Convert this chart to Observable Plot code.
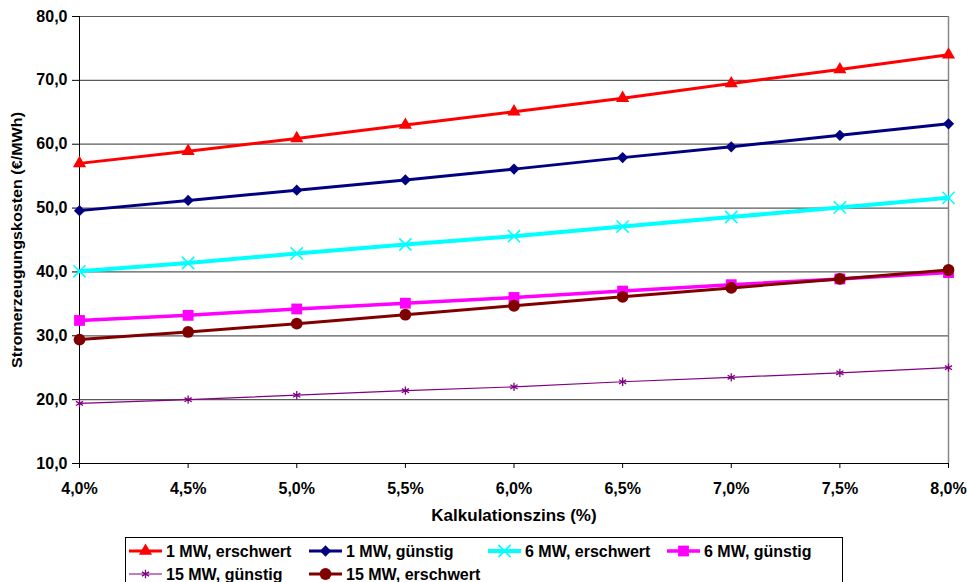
<!DOCTYPE html>
<html>
<head>
<meta charset="utf-8">
<script src="https://cdn.jsdelivr.net/npm/d3@7"></script>
<script src="https://cdn.jsdelivr.net/npm/@observablehq/plot@0.6"></script>
<style>
  html, body { margin: 0; padding: 0; background: #fff; overflow: hidden; }
  #wrap { position: relative; width: 967px; height: 582px; font-family: "Liberation Sans", Arial, sans-serif; }
  #legend { position: absolute; left: 125px; top: 537px; width: 718px; height: 60px; border: 1px solid #000; box-sizing: border-box; background: #fff; }
</style>
</head>
<body>
<div id="wrap"><div id="chart"></div><div id="legend"></div></div>
<script>
// ---- data ----
const rates = [4.0, 4.5, 5.0, 5.5, 6.0, 6.5, 7.0, 7.5, 8.0];
const seriesNames = ["1 MW, erschwert", "1 MW, günstig", "6 MW, erschwert", "6 MW, günstig", "15 MW, günstig", "15 MW, erschwert"];
const mw1Erschwert = [57.0, 58.9, 60.9, 63.0, 65.1, 67.2, 69.5, 71.7, 74.0];
const mw1Guenstig = [49.6, 51.2, 52.8, 54.4, 56.1, 57.9, 59.6, 61.4, 63.2];
const mw6Erschwert = [40.1, 41.4, 42.9, 44.3, 45.6, 47.1, 48.6, 50.1, 51.6];
const mw6Guenstig = [32.4, 33.2, 34.2, 35.1, 36.0, 37.0, 38.0, 38.9, 39.9];
const mw15Guenstig = [19.4, 20.0, 20.7, 21.4, 22.0, 22.8, 23.5, 24.2, 25.0];
const mw15Erschwert = [29.4, 30.6, 31.9, 33.3, 34.7, 36.1, 37.5, 38.9, 40.3];
const xTicks = [4.0, 4.5, 5.0, 5.5, 6.0, 6.5, 7.0, 7.5, 8.0];
const yTicks = [10, 20, 30, 40, 50, 60, 70, 80];
const xTitle = "Kalkulationszins (%)";
const yTitle = "Stromerzeugungskosten (€/MWh)";

// ---- styles ----
const rotDiamond = {
  draw(ctx, size) {
    const r = Math.sqrt(size / 2);
    ctx.moveTo(0, -r); ctx.lineTo(r, 0); ctx.lineTo(0, r); ctx.lineTo(-r, 0); ctx.closePath();
  }
};
const styles = [
  {color: "#FF0000", width: 3, symbol: "triangle", r: 4.9, filled: true},
  {color: "#000080", width: 3, symbol: rotDiamond, r: 4.5, filled: true},
  {color: "#00FFFF", width: 4, symbol: "times", r: 5.6, filled: false, sw: 1.6},
  {color: "#FF00FF", width: 3.5, symbol: "square", r: 6.1, filled: true},
  {color: "#800080", width: 1.2, symbol: "asterisk", r: 3.9, filled: false, sw: 1.3},
  {color: "#800000", width: 3, symbol: "circle", r: 5.9, filled: true}
];
const seriesValues = [mw1Erschwert, mw1Guenstig, mw6Erschwert, mw6Guenstig, mw15Guenstig, mw15Erschwert];

const fmtY = d => d.toFixed(1).replace(".", ",");
const fmtX = d => d.toFixed(1).replace(".", ",") + "%";

const marks = [
  Plot.ruleY(yTicks.filter(d => d > 10), {stroke: "#5a5a5a", strokeWidth: 1.2}),
  Plot.ruleX([8], {stroke: "#888", strokeWidth: 1.5}),
  Plot.ruleX([4], {stroke: "#000", strokeWidth: 1}),
  Plot.ruleY([10], {stroke: "#000", strokeWidth: 1}),
  Plot.axisX({ticks: xTicks, tickFormat: fmtX, tickSize: 5, tickPadding: 14, label: null, fontSize: 16, fontWeight: "bold", stroke: "#000"}),
  Plot.axisY({ticks: yTicks, tickFormat: fmtY, tickSize: 7, tickPadding: 5, label: null, fontSize: 16, fontWeight: "bold", stroke: "#000"}),
  Plot.text([yTitle], {frameAnchor: "left", textAnchor: "middle", dx: -62, rotate: -90, fontSize: 15, fontWeight: "bold", fill: "#000"}),
  Plot.text([xTitle], {frameAnchor: "bottom", dy: 57, fontSize: 17, fontWeight: "bold", fill: "#000"})
];

seriesValues.forEach((vals, i) => {
  const s = styles[i];
  const rows = rates.map((x, j) => ({x, y: vals[j], series: seriesNames[i]}));
  marks.push(Plot.line(rows, {x: "x", y: "y", stroke: s.color, strokeWidth: s.width}));
  marks.push(Plot.dot(rows, s.filled
    ? {x: "x", y: "y", symbol: () => s.symbol, r: s.r, fill: s.color, stroke: "none"}
    : {x: "x", y: "y", symbol: () => s.symbol, r: s.r, stroke: s.color, strokeWidth: s.sw, fill: "none"}));
});

const chart = Plot.plot({
  width: 967, height: 530,
  marginLeft: 79, marginRight: 19, marginTop: 16, marginBottom: 67,
  style: {fontFamily: "'Liberation Sans', Arial, sans-serif", fontWeight: "bold", color: "#000", background: "#fff", overflow: "visible"},
  x: {domain: [4, 8]},
  y: {domain: [10, 80]},
  symbol: {type: "identity"},
  marks
});
document.getElementById("chart").appendChild(chart);

// stretch the y title to the length it has in the reference
d3.select(chart).selectAll("text").filter(function() { return this.textContent === yTitle; })
  .attr("textLength", 256).attr("lengthAdjust", "spacingAndGlyphs");

// ---- legend ----
const legendPos = [[3, 13], [183, 13], [362, 13], [541, 13], [3, 36], [183, 36]];
const lsvg = d3.select("#legend").append("svg").attr("width", 716).attr("height", 58)
  .style("font-family", "'Liberation Sans', Arial, sans-serif");
const symMap = {triangle: d3.symbolTriangle, square: d3.symbolSquare, circle: d3.symbolCircle, times: d3.symbolTimes, asterisk: d3.symbolAsterisk};
seriesNames.forEach((name, i) => {
  const s = styles[i];
  const [x0, y0] = legendPos[i];
  const g = lsvg.append("g").attr("transform", `translate(${x0},${y0})`);
  g.append("line").attr("x1", 0).attr("x2", 33).attr("y1", 0).attr("y2", 0)
    .attr("stroke", s.color).attr("stroke-width", s.width);
  const type = typeof s.symbol === "string" ? symMap[s.symbol] : s.symbol;
  const p = g.append("path").attr("transform", "translate(16.5,0)")
    .attr("d", d3.symbol(type, Math.PI * s.r * s.r)());
  if (s.filled) p.attr("fill", s.color); else p.attr("fill", "none").attr("stroke", s.color).attr("stroke-width", s.sw);
  g.append("text").attr("x", 37).attr("y", 0).attr("dy", "0.36em")
    .attr("font-size", 16).attr("font-weight", "bold").attr("fill", "#000").text(name);
});
</script>
</body>
</html>
